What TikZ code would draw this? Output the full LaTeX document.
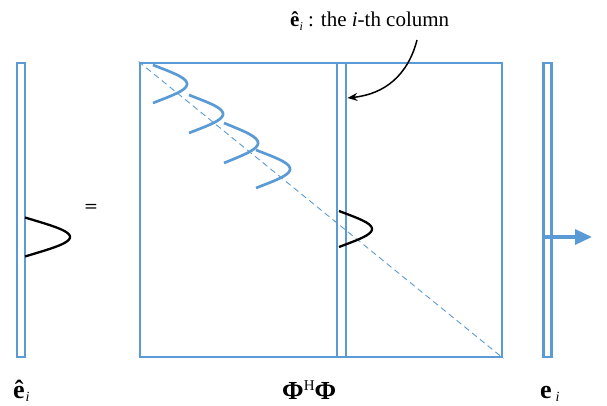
\documentclass[tikz,border=0pt]{standalone}
\usepackage{fontspec}
\setmainfont{Liberation Serif}
\usetikzlibrary{arrows.meta}
\definecolor{mblue}{RGB}{91,155,213}
\newcommand\gaussline[5]{% style, x0, yc, A, h
  \draw[#1] plot[domain=-1.15:1.15, samples=40, smooth]
    ({#2 + #4*(exp(-\x*\x/2)-exp(-0.661))/(1-exp(-0.661))}, {#3 + \x*#5/2.3});}
\begin{document}
\begin{tikzpicture}[x=1pt,y=-1pt,
  bar/.style={draw=mblue, line width=2.9pt, inner sep=0pt, minimum width=8pt, minimum height=294pt},
  bluegauss/.style={draw=mblue, line width=2.7pt},
  blackgauss/.style={draw=black, line width=2.3pt},
  lbl/.style={font=\fontsize{21}{24}\selectfont, inner sep=0pt},
  blbl/.style={font=\fontsize{26}{28}\selectfont, inner sep=0pt}]
\useasboundingbox (0,0) rectangle (607,406);
% vectors and matrix
\node[bar] (lbar) at (21,210) {};
\node[bar] (rbar) at (547.5,210) {};
\node[draw=mblue, line width=2.9pt, inner sep=0pt, minimum width=362pt, minimum height=294pt] (mat) at (321,210) {};
\node[bar, minimum width=9pt] (col) at (341.5,210) {};
% diagonal
\draw[mblue, line width=0.9pt, dash pattern=on 6pt off 4pt] (mat.north west) -- (mat.south east);
% gaussians
\gaussline{bluegauss}{153}{84}{34}{38}
\gaussline{bluegauss}{189}{114}{34}{38}
\gaussline{bluegauss}{224}{143}{34}{40}
\gaussline{bluegauss}{256}{169}{34}{38}
\gaussline{blackgauss}{25}{237}{45}{39}
\gaussline{blackgauss}{339}{229}{33}{36}
% equals
\node[font=\sffamily\bfseries\fontsize{15}{15}\selectfont, inner sep=0pt] (eq) at (91,207) {=};
% output arrow
\coordinate (ain) at (542,237);
\coordinate (aout) at (592,237);
\draw[mblue, line width=3.4pt, -{Triangle[length=17pt,width=15pt]}] (ain) -- (aout);
% top label
\node[lbl, anchor=base west] (top) at (290,27) {\textbf{ê}\raisebox{-4pt}{\fontsize{12}{12}\selectfont\textit{i}} : the \textit{i}-th column};
\coordinate (cs) at (417,40);
\draw[black, line width=1.5pt, -{Stealth[length=10pt,width=8pt]}] (cs) .. controls (408,75) and (385,94) .. (col.east |- 0,98);
% bottom labels
\node[blbl, anchor=base west] (l1) at (13,398) {\textbf{ê}\hspace{1pt}\raisebox{-3pt}{\fontsize{14}{14}\selectfont\textit{i}}};
\node[blbl, anchor=base west] (l2) at (282,399) {\textbf{Φ}\raisebox{9pt}{\fontsize{15}{15}\selectfont H}\textbf{Φ}};
\node[blbl, anchor=base west] (l3) at (540,398) {\textbf{e}\hspace{4pt}\raisebox{-3pt}{\fontsize{14}{14}\selectfont\textit{i}}};
\end{tikzpicture}
\end{document}
